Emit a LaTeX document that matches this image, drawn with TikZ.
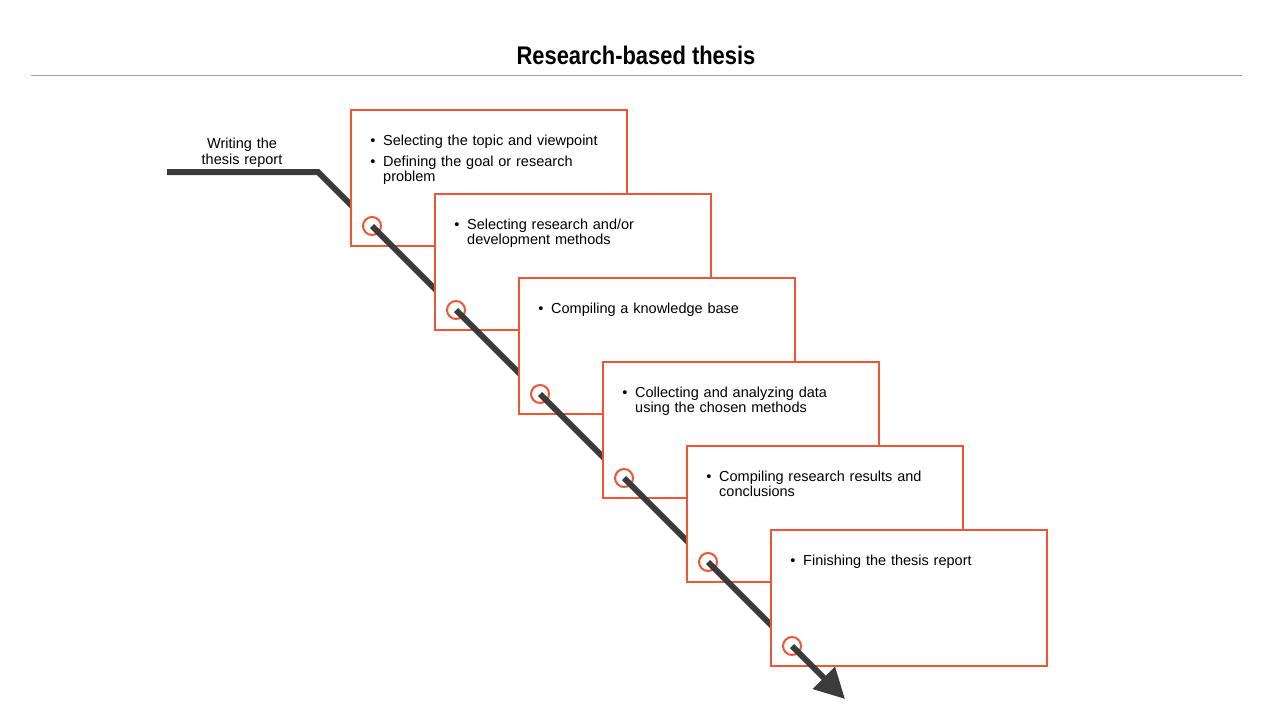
\documentclass[tikz,border=0pt]{standalone}
\usepackage{fontspec}
\setmainfont{Liberation Sans}
\newfontfamily\titlefont[FakeStretch=0.86]{Liberation Sans}
\usetikzlibrary{arrows.meta}
\definecolor{boxred}{HTML}{EE5636}
\definecolor{linegray}{HTML}{3B3B3B}
\begin{document}
\begin{tikzpicture}[x=1pt,y=-1pt,
  track/.style={draw=linegray, line width=6pt, line join=miter},
  stepbox/.style={draw=boxred, fill=white, line width=2.4pt, minimum width=276pt, minimum height=136pt, inner sep=0pt},
  ring/.style={circle, draw=boxred, line width=2pt, minimum size=18pt, inner sep=0pt},
  bul/.style={anchor=base, inner sep=0pt, font=\fontsize{14.5}{15.5}\selectfont},
  txt/.style={anchor=base west, inner sep=0pt, text width=250pt, align=left, font=\fontsize{14.5}{15.5}\selectfont},
]
\useasboundingbox (0,0) rectangle (1280,720);
\node[font=\titlefont\bfseries\fontsize{25.5}{29}\selectfont] (title) at (636,55) {Research-based thesis};
\coordinate (rl) at (31,75);
\coordinate (rr) at (1242,75);
\draw[gray!75, line width=1pt] (rl) -- (rr);

\node[anchor=base, inner sep=0pt, text width=130pt, align=center, font=\fontsize{14.5}{16}\selectfont] (lbl) at (242,148) {Writing the\\thesis report};

\coordinate (s0) at (167,172);
\coordinate (s1) at (318,172);
\coordinate (c1) at (372,226);
\coordinate (c2) at (456,310);
\coordinate (c3) at (540,394);
\coordinate (c4) at (624,478);
\coordinate (c5) at (708,562);
\coordinate (c6) at (792,646);
\coordinate (c7) at (845,699);

\draw[track] (s0) -- (s1) -- (c1);

% box 1
\node[stepbox] (b1) at (489,178) {};
\node[ring] (r1) at (c1) {};
\node[bul] (u1a) at (373,145) {\textbullet};
\node[txt] (t1a) at (383,145) {Selecting the topic and viewpoint};
\node[bul] (u1b) at (373,166) {\textbullet};
\node[txt] (t1b) at (383,166) {Defining the goal or research\\problem};
\draw[track] (r1.center) -- (c2);

% box 2
\node[stepbox] (b2) at (573,262) {};
\node[ring] (r2) at (c2) {};
\node[bul] (u2a) at (457,229) {\textbullet};
\node[txt] (t2a) at (467,229) {Selecting research and/or\\development methods};
\draw[track] (r2.center) -- (c3);

% box 3
\node[stepbox] (b3) at (657,346) {};
\node[ring] (r3) at (c3) {};
\node[bul] (u3a) at (541,313) {\textbullet};
\node[txt] (t3a) at (551,313) {Compiling a knowledge base};
\draw[track] (r3.center) -- (c4);

% box 4
\node[stepbox] (b4) at (741,430) {};
\node[ring] (r4) at (c4) {};
\node[bul] (u4a) at (625,397) {\textbullet};
\node[txt] (t4a) at (635,397) {Collecting and analyzing data\\using the chosen methods};
\draw[track] (r4.center) -- (c5);

% box 5
\node[stepbox] (b5) at (825,514) {};
\node[ring] (r5) at (c5) {};
\node[bul] (u5a) at (709,481) {\textbullet};
\node[txt] (t5a) at (719,481) {Compiling research results and\\conclusions};
\draw[track] (r5.center) -- (c6);

% box 6
\node[stepbox] (b6) at (909,598) {};
\node[ring] (r6) at (c6) {};
\node[bul] (u6a) at (793,565) {\textbullet};
\node[txt] (t6a) at (803,565) {Finishing the thesis report};
\draw[track, -{Triangle[length=30pt,width=30pt]}] (r6.center) -- (c7);
\end{tikzpicture}
\end{document}
